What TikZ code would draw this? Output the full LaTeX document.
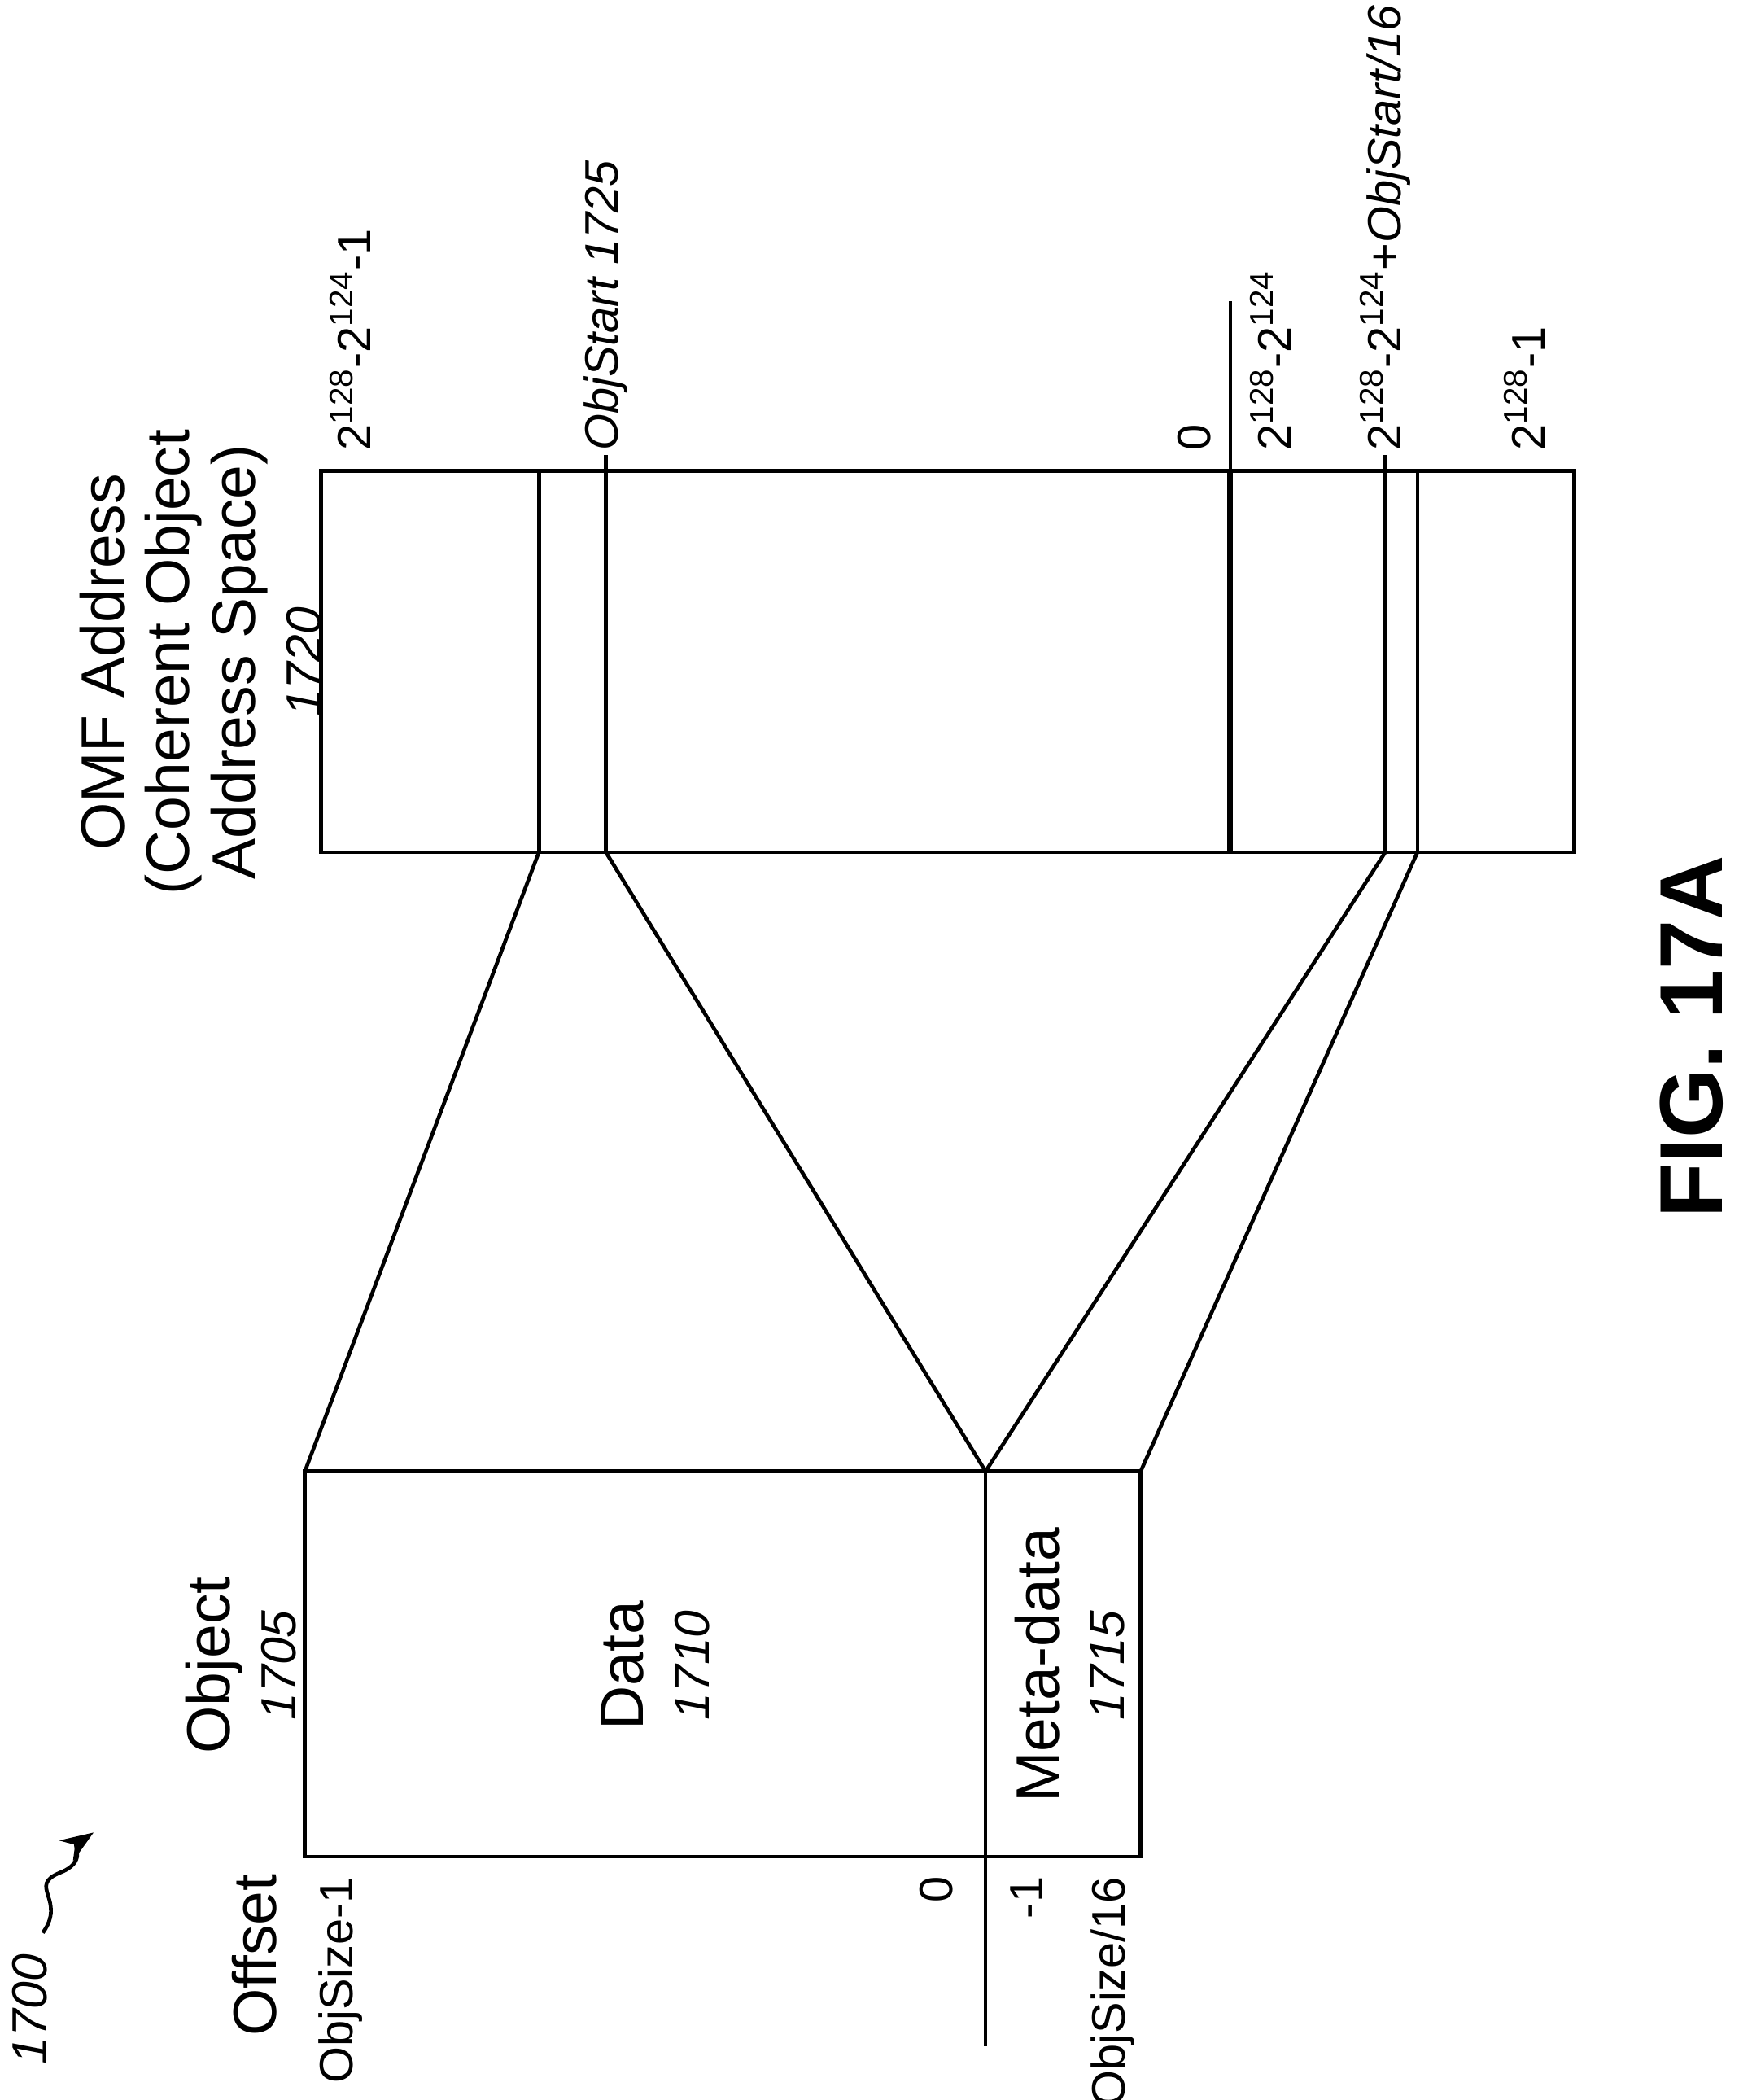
\documentclass[tikz,border=0pt]{standalone}
\usepackage{fontspec}
\setmainfont{Liberation Sans}
\usetikzlibrary{arrows.meta}
\begin{document}
\begin{tikzpicture}[x=0.02cm,y=-0.02cm,line width=1.6pt,
  lbl/.style={rotate=90,font=\fontsize{20}{22}\selectfont,inner sep=1pt},
  big/.style={rotate=90,font=\fontsize{26}{28}\selectfont,align=center,inner sep=1pt}]
\useasboundingbox (0,0) rectangle (1300,1570);
% OMF box
\draw (240,352) rectangle (1177,637);
\foreach \x in {403,453,1036,1060} \draw (\x,352) -- (\x,637);
\draw[line width=2.4pt] (920,352) -- (920,637);
\draw (920,352) -- (920,225);
\draw (453,352) -- (453,340);
\draw (1036,352) -- (1036,340);
% Object box
\draw (228,1100) rectangle (853,1388);
\draw (737,1100) -- (737,1388);
\draw (737,1388) -- (737,1530);
% connectors
\coordinate (o1) at (403,637); \coordinate (o2) at (453,637);
\coordinate (o3) at (1036,637); \coordinate (o4) at (1060,637);
\coordinate (b1) at (228,1100); \coordinate (b2) at (737,1100); \coordinate (b3) at (853,1100);
\draw (o1) -- (b1); \draw (o2) -- (b2); \draw (o3) -- (b2); \draw (o4) -- (b3);
% OMF labels
\node[lbl,anchor=west] (l1) at (262,340) {2\textsuperscript{128}-2\textsuperscript{124}-1};
\node[lbl,anchor=west] (l2) at (453,340) {\itshape ObjStart 1725};
\node[lbl,anchor=west] (l3) at (893,340) {0};
\node[lbl,anchor=west] (l4) at (950,340) {2\textsuperscript{128}-2\textsuperscript{124}};
\node[lbl,anchor=west] (l5) at (1036,340) {2\textsuperscript{128}-2\textsuperscript{124}+\itshape ObjStart/16};
\node[lbl,anchor=west] (l6) at (1140,340) {2\textsuperscript{128}-1};
\node[big] (omf) at (150,495) {OMF Address\\(Coherent Object\\Address Space)\\{\itshape\fontsize{21}{22}\selectfont 1720}};
% Object labels
\node[big] (obj) at (180,1245) {Object\\{\itshape\fontsize{21}{22}\selectfont 1705}};
\node[big] (data) at (490,1245) {Data\\{\itshape\fontsize{21}{22}\selectfont 1710}};
\node[big] (meta) at (800,1245) {Meta-data\\{\itshape\fontsize{21}{22}\selectfont 1715}};
\node[big,anchor=east] (off) at (190,1398) {Offset};
\node[lbl,anchor=east] (m1) at (255,1400) {ObjSize-1};
\node[lbl,anchor=east] (m2) at (700,1400) {0};
\node[lbl,anchor=east] (m3) at (768,1400) {-1};
\node[lbl,anchor=east] (m4) at (832,1400) {ObjSize/16};
% 1700 ref
\node[lbl,anchor=east,font=\itshape\fontsize{21}{22}\selectfont] (ref) at (22,1458) {1700};
\draw[-{Stealth[length=14pt]}] (32,1445) .. controls (50,1420) and (20,1410) .. (45,1400) .. controls (65,1392) and (55,1380) .. (70,1370);
\node[rotate=90,font=\bfseries\fontsize{38}{42}\selectfont] (fig) at (1265,775) {FIG. 17A};
\end{tikzpicture}
\end{document}
